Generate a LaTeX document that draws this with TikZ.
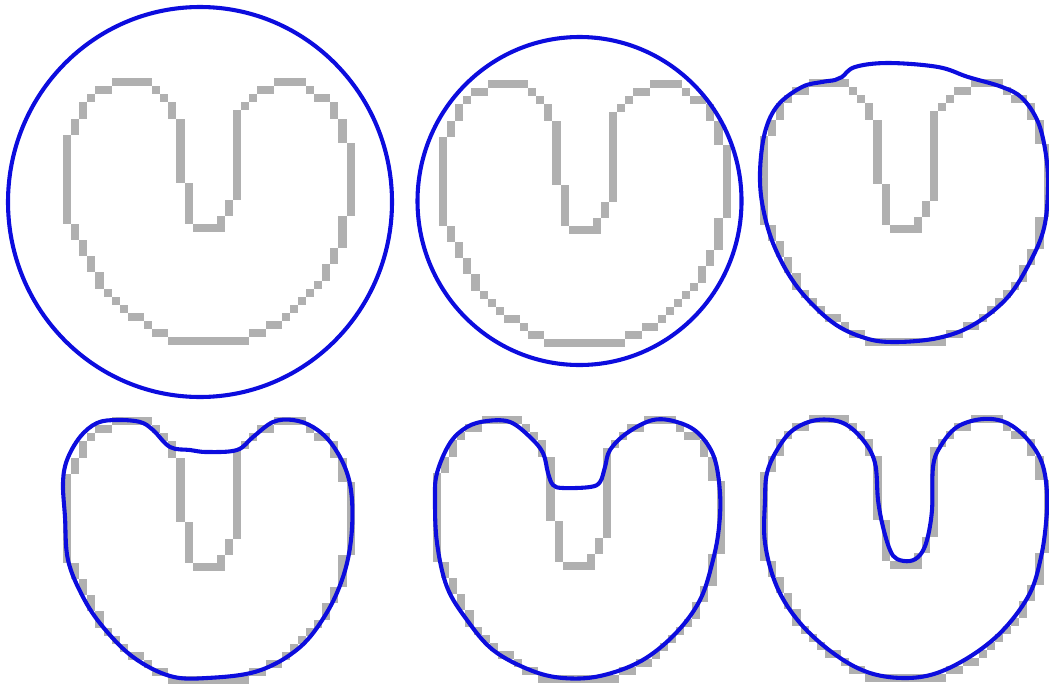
\documentclass[tikz,border=0pt]{standalone}
\usepackage{xcolor}
\usepackage{tikz}
\usetikzlibrary{calc}
\definecolor{PixGray}{RGB}{176,176,176}
\definecolor{SnakeBlue}{RGB}{12,12,222}

\begin{document}
\begin{tikzpicture}[x=0.025cm, y=-0.025cm,
          pix/.style={fill=PixGray},
          cont/.style={draw=SnakeBlue, line width=2.9pt, line join=round}
        ]
        \useasboundingbox (0,0) rectangle (1049,684);

        % Pixel outline of the target shape, one per panel
        \foreach \ox/\oy in {63/78, 439/80, 760/79, 63/417, 433/416, 760/415} {
          \foreach \a/\b/\c/\d in {
            6/0/10/0, 4/1/5/1, 11/1/11/1, 3/2/3/2, 12/2/12/2, 2/3/2/4,
            13/3/13/4, 1/5/1/6, 14/5/14/12, 0/7/0/17, 15/13/15/17,
            16/18/19/18, 19/17/19/17, 20/15/20/16, 21/4/21/14, 22/3/22/3,
            23/2/23/2, 24/1/25/1, 26/0/29/0, 30/1/30/1, 31/2/32/2,
            33/3/33/4, 34/5/34/7, 35/8/35/16, 34/17/34/20, 33/21/33/22,
            32/23/32/24, 31/25/31/25, 30/26/30/26, 29/27/29/27, 28/28/28/28,
            27/29/27/29, 25/30/26/30, 23/31/24/31, 13/32/22/32, 11/31/12/31,
            10/30/10/30, 8/29/9/29, 7/28/7/28, 6/27/6/27, 5/26/5/26,
            4/24/4/25, 3/22/3/23, 2/20/2/21, 1/18/1/19
          } {
            \fill[pix] ({\ox+\a*8.1},{\oy+\b*8.1})
                  rectangle ({\ox+(\c+1)*8.1},{\oy+(\d+1)*8.1});
          }
        }

        % Contour, initial circle
        \draw[cont] (200,202) ellipse [x radius=192, y radius=195];

        % Contour, step 2
        \draw[cont] (579.5,201) ellipse [x radius=162, y radius=164];

        % Contour, step 3
        \draw[cont] plot[smooth cycle, tension=0.6] coordinates {
          (842,77) (855,67) (888,63) (938,67) (968,77) (1002,87) (1022,98)
          (1038,122) (1046,155) (1048,188) (1044,228) (1030,262) (1007,298)
          (973,325) (938,338) (895,342) (865,338) (832,322) (798,288)
          (775,248) (763,208) (760,172) (765,132) (778,105) (802,87)
          (822,82) (835,80)};

        % Contour, step 4
        \draw[cont] plot[smooth cycle, tension=0.6] coordinates {
          (65,517) (63,483) (67,460) (80,437) (97,423) (117,420) (140,422)
          (153,430) (170,447) (190,450) (207,452) (237,450) (253,437)
          (273,422) (293,420) (313,427) (331,443) (346,470) (352,500)
          (351,540) (343,577) (326,614) (299,648) (258,671) (207,678)
          (170,676) (133,657) (103,627) (83,597) (68,560)};

        % Contour, step 5
        \draw[cont] plot[smooth cycle, tension=0.6] coordinates {
          (435,500) (437,473) (450,443) (467,427) (487,421) (510,422)
          (530,437) (543,453) (548,473) (553,485) (563,488) (590,487)
          (600,482) (605,467) (610,450) (627,433) (653,420) (677,422)
          (698,433) (714,457) (720,493) (719,527) (713,560) (700,600)
          (675,634) (641,661) (600,676) (563,678) (530,670) (493,650)
          (467,620) (447,587) (437,543)};

        % Contour, final
        \draw[cont] plot[smooth cycle, tension=0.6] coordinates {
          (765,500) (767,473) (777,450) (793,430) (817,420) (843,423)
          (863,440) (875,463) (878,500) (883,527) (890,550) (897,559)
          (910,561) (920,555) (927,540) (932,510) (933,467) (940,447)
          (957,427) (983,419) (1007,423) (1028,440) (1042,463) (1047,493)
          (1046,523) (1041,557) (1030,593) (1005,628) (974,654) (937,673)
          (903,678) (867,672) (833,653) (800,623) (777,587) (765,543)};
      \end{tikzpicture}
\end{document}
